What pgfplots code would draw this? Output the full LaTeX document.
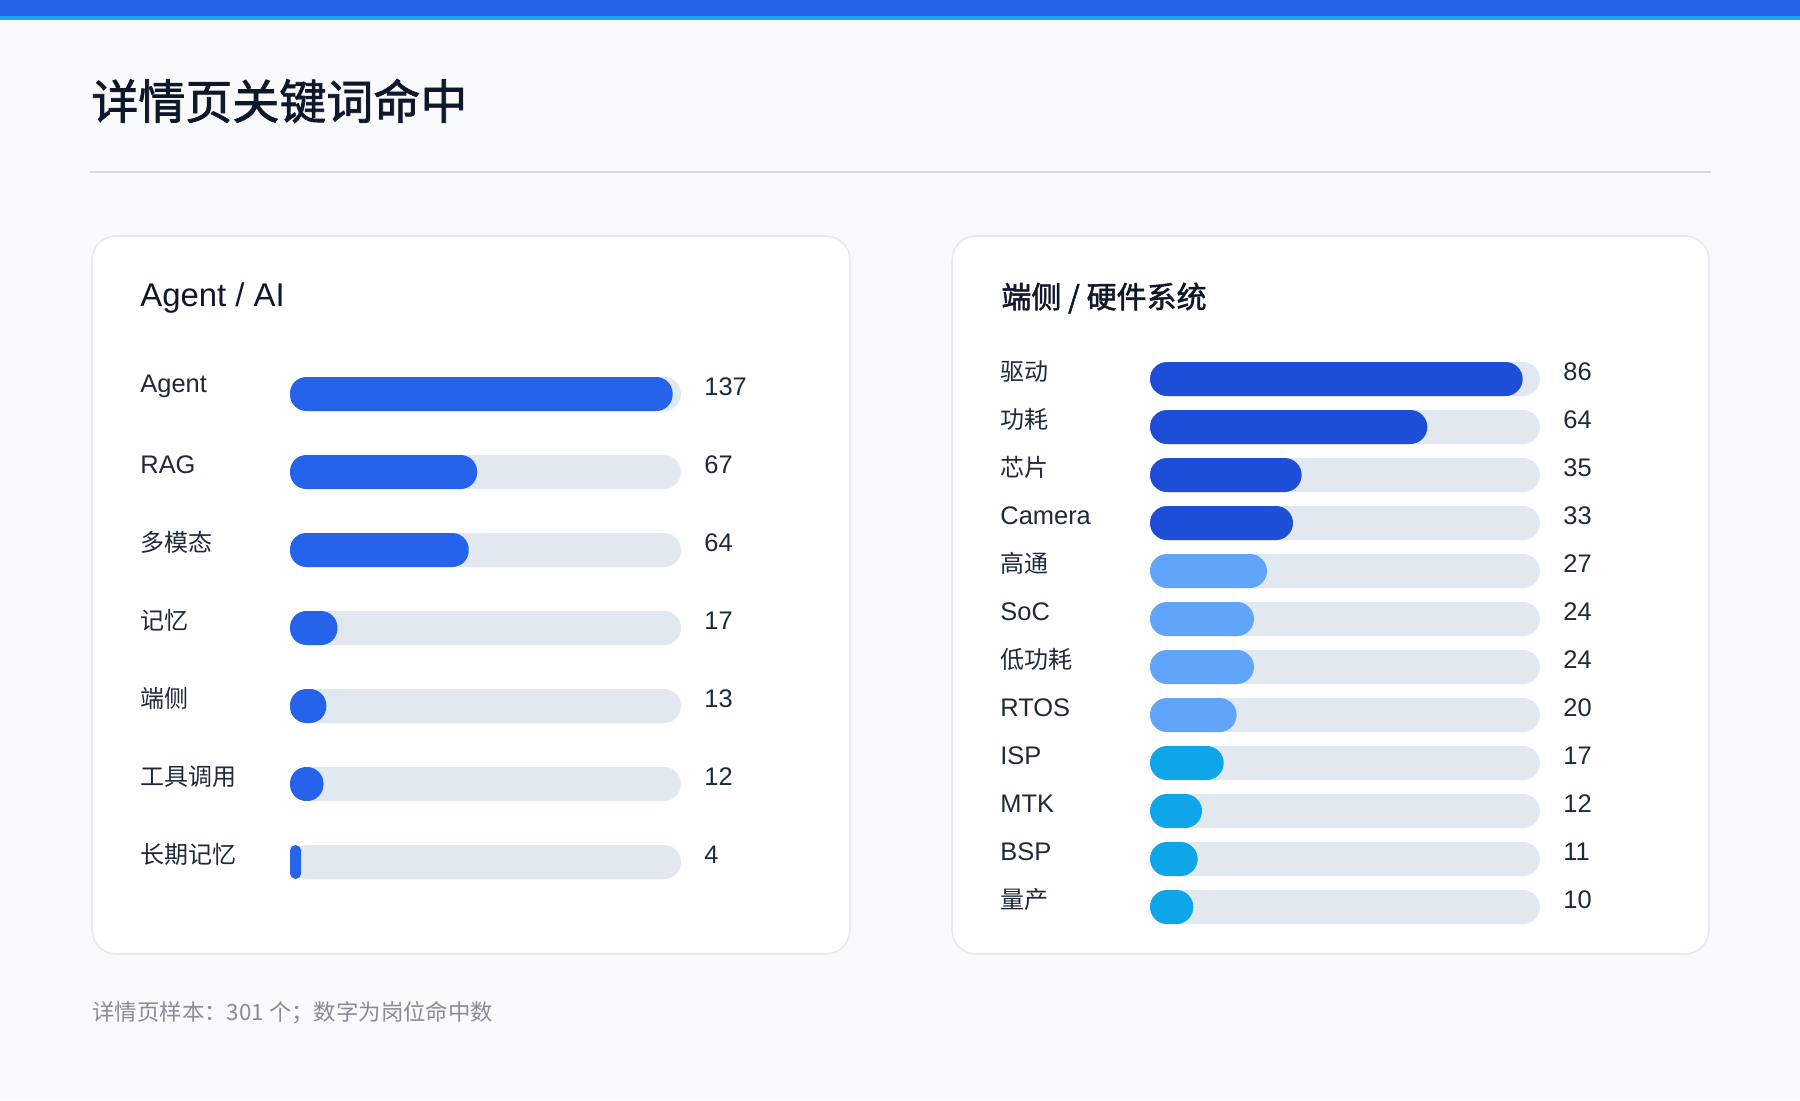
\documentclass[border=0pt]{standalone}
\usepackage{fontspec}
\setmainfont{Liberation Sans}[Scale=1.06]
\newfontfamily\cjk{Noto Sans CJK SC}
\newfontfamily\cjkm{Noto Sans CJK SC}[FakeBold=1.6]
\usepackage{pgfplots}
\usepackage{pgfplotstable}
\pgfplotsset{compat=1.18}
\definecolor{bg}{HTML}{F8FAFC}
\definecolor{stripe}{HTML}{2563EB}
\definecolor{stripeb}{HTML}{1AA7E3}
\definecolor{ink}{HTML}{0F172A}
\definecolor{lab}{HTML}{1E293B}
\definecolor{rule}{HTML}{D6DBE2}
\definecolor{cardline}{HTML}{E6EAF0}
\definecolor{track}{HTML}{E2E8F0}
\definecolor{cA}{HTML}{2563EB}
\definecolor{cB}{HTML}{1D4ED8}
\definecolor{cC}{HTML}{60A5FA}
\definecolor{cD}{HTML}{0EA5E9}
\definecolor{note}{HTML}{868D98}

% left panel
\pgfplotstableread{
idx v t
0 137 140
1 67 140
2 64 140
3 17 140
4 13 140
5 12 140
6 4 140
}\Ltrack
\pgfplotstableread{
idx v
0 137
1 67
2 64
3 17
4 13
5 12
}\Lmain
\pgfplotstableread{
idx v
6 4
}\Lsmall
% right panel
\pgfplotstableread{
idx v t
0 86 90
1 64 90
2 35 90
3 33 90
4 27 90
5 24 90
6 24 90
7 20 90
8 17 90
9 12 90
10 11 90
11 10 90
}\Rtrack
\pgfplotstableread{
idx v
0 86
1 64
2 35
3 33
}\Rtop
\pgfplotstableread{
idx v
4 27
5 24
6 24
7 20
}\Rmid
\pgfplotstableread{
idx v
8 17
9 12
10 11
11 10
}\Rbot

\pgfplotsset{panel/.style={
  scale only axis, anchor=north west, y dir=reverse,
  xbar, bar width=17pt, bar shift=0pt,
  axis line style={draw=none}, xtick=\empty, major tick length=0pt,
  xmin=0, ymin=-0.5, enlargelimits=false, clip=false,
  yticklabel style={anchor=west, inner sep=0pt, xshift=-75pt, yshift=3.6pt,
    font=\fontsize{12}{14}\selectfont, text=lab},
  every node near coord/.append style={anchor=west, inner sep=0pt, xshift=11.5pt, yshift=3.6pt,
    font=\fontsize{12}{14}\selectfont, text=lab},
}}

\begin{document}
\begin{tikzpicture}[x=1pt,y=1pt]
\fill[bg] (0,0) rectangle (900,550);
\fill[stripe] (0,542) rectangle (900,550);
\fill[stripeb] (0,539.8) rectangle (900,542);
\node[anchor=west, inner sep=0pt, text=ink, font=\fontsize{23.5}{28}\selectfont\cjkm] at (45.5,499.5) {详情页关键词命中};
\draw[rule, line width=1pt] (45,464) -- (855.5,464);
\draw[cardline, fill=white, rounded corners=12pt, line width=0.8pt] (46,73) rectangle (425,432);
\draw[cardline, fill=white, rounded corners=12pt, line width=0.8pt] (476,73) rectangle (854.5,432);
\node[anchor=west, inner sep=0pt, text=ink, font=\fontsize{15.5}{18}\selectfont] at (70,401) {Agent / AI};
\node[anchor=west, inner sep=0pt, text=ink, font=\fontsize{15}{18}\selectfont\cjkm] at (500.5,401) {端侧 / 硬件系统};
\node[anchor=west, inner sep=0pt, text=note, font=\fontsize{11.2}{13}\selectfont\cjk] at (46,43.5) {详情页样本：301 个；数字为岗位命中数};

\begin{axis}[panel, at={(145pt,372.5pt)}, width=195.5pt, height=273pt,
  xmax=140, ymax=6.5, ytick={0,...,6},
  yticklabels={Agent, RAG, {\cjk 多模态}, {\cjk 记忆}, {\cjk 端侧}, {\cjk 工具调用}, {\cjk 长期记忆}}]
\addplot[fill=track, draw=none, rounded corners=8.5pt, point meta=explicit symbolic, nodes near coords]
  table[x=t, y=idx, meta=v] {\Ltrack};
\addplot[fill=cA, draw=none, rounded corners=8.2pt] table[x=v, y=idx] {\Lmain};
\addplot[fill=cA, draw=none, rounded corners=2.8pt] table[x=v, y=idx] {\Lsmall};
\end{axis}

\begin{axis}[panel, at={(575pt,372.5pt)}, width=195pt, height=288pt,
  xmax=90, ymax=11.5, ytick={0,...,11},
  yticklabels={{\cjk 驱动}, {\cjk 功耗}, {\cjk 芯片}, Camera, {\cjk 高通}, SoC, {\cjk 低功耗}, RTOS, ISP, MTK, BSP, {\cjk 量产}}]
\addplot[fill=track, draw=none, rounded corners=8.5pt, point meta=explicit symbolic, nodes near coords]
  table[x=t, y=idx, meta=v] {\Rtrack};
\addplot[fill=cB, draw=none, rounded corners=8.5pt] table[x=v, y=idx] {\Rtop};
\addplot[fill=cC, draw=none, rounded corners=8.5pt] table[x=v, y=idx] {\Rmid};
\addplot[fill=cD, draw=none, rounded corners=8.5pt] table[x=v, y=idx] {\Rbot};
\end{axis}
\pgfresetboundingbox
\useasboundingbox (0,0) rectangle (900,550);
\end{tikzpicture}
\end{document}
